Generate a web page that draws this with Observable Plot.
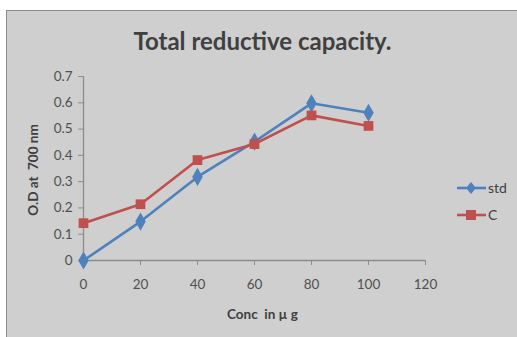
<!DOCTYPE html>
<html><head><meta charset="utf-8">
<script src="https://cdn.jsdelivr.net/npm/d3@7"></script>
<script src="https://cdn.jsdelivr.net/npm/@observablehq/plot@0.6"></script>
<style>
html,body{margin:0;padding:0;background:#fff;}
#wrap{position:relative;width:517px;height:337px;overflow:hidden;font-family:Lato,"Open Sans",sans-serif;}
#frame{position:absolute;left:6px;top:10px;width:520px;height:340px;background:#cfcfcf;border:1px solid #8a8a8a;border-right:none;border-bottom:none;}
#chart{position:absolute;left:0;top:0;}
.t{position:absolute;color:#404040;white-space:nowrap;}
#title{left:0;width:525px;text-align:center;top:26px;font-size:24px;font-weight:bold;}
#xl{left:0;width:525px;text-align:center;top:306px;font-size:13.5px;font-weight:bold;}
#yl{left:33px;top:170px;font-size:13.5px;font-weight:bold;transform:translate(-50%,-50%) rotate(-90deg);}
#legend{position:absolute;left:456px;top:174px;font-size:14px;color:#404040;}
</style></head>
<body><div id="wrap"><div id="frame"></div><div id="chart"></div>
<div class="t" id="title">Total reductive capacity.</div>
<div class="t" id="xl">Conc&nbsp; in µ g</div>
<div class="t" id="yl">O.D at&nbsp; 700 nm</div>
<div id="legend"></div>
</div>
<script>
const conc = [0, 20, 40, 60, 80, 100];
const stdValues = [0, 0.148, 0.318, 0.452, 0.598, 0.562];
const cValues = [0.142, 0.214, 0.382, 0.443, 0.552, 0.512];
const seriesNames = ["std", "C"];
const seriesColors = ["#4f81bd", "#c0504d"];
const seriesSymbols = ["diamond", "square"];
const xTicks = [0, 20, 40, 60, 80, 100, 120];
const yTicks = [0, 0.1, 0.2, 0.3, 0.4, 0.5, 0.6, 0.7];

const data = [];
conc.forEach((c, i) => {
  data.push({conc: c, od: stdValues[i], s: seriesNames[0]});
  data.push({conc: c, od: cValues[i], s: seriesNames[1]});
});

const chart = Plot.plot({
  width: 517, height: 337,
  marginLeft: 83, marginRight: 92, marginTop: 76, marginBottom: 77,
  style: {background: "transparent", fontFamily: "Lato, 'Open Sans', sans-serif", fontSize: "12px", color: "#505050"},
  x: {domain: [0, 120], ticks: xTicks},
  y: {domain: [0, 0.7], ticks: yTicks},
  color: {domain: seriesNames, range: seriesColors},
  symbol: {domain: seriesNames, range: seriesSymbols},
  marks: [
    Plot.ruleY([0], {stroke: "#8c8c8c", strokeWidth: 1.3}),
    Plot.ruleX([0], {stroke: "#8c8c8c", strokeWidth: 1.3}),
    Plot.axisX({ticks: xTicks, tickSize: 5, tickPadding: 14, stroke: "#8c8c8c", fill: "#505050", label: null, fontSize: 13.5, tickFormat: d => d}),
    Plot.axisY({ticks: yTicks, tickSize: 5, tickPadding: 6, stroke: "#8c8c8c", fill: "#505050", label: null, fontSize: 13.5, tickFormat: d => d === 0 ? "0" : d.toFixed(1)}),
    Plot.line(data, {x: "conc", y: "od", z: "s", stroke: "s", strokeWidth: 2.6}),
    Plot.dot(data, {x: "conc", y: "od", fill: "s", symbol: "s", r: 5.5, stroke: null})
  ]
});
document.getElementById("chart").appendChild(chart);

const leg = document.getElementById("legend");
seriesNames.forEach((n, i) => {
  const row = document.createElement("div");
  row.style.cssText = "display:flex;align-items:center;height:27px;";
  const sym = seriesSymbols[i] === "diamond"
    ? `<path d="M15 5 L20 11 L15 17 L10 11Z" fill="${seriesColors[i]}"/>`
    : `<rect x="10" y="6" width="10" height="10" fill="${seriesColors[i]}"/>`;
  row.innerHTML = `<svg width="31" height="22"><line x1="1" y1="11" x2="30" y2="11" stroke="${seriesColors[i]}" stroke-width="2.6"/>${sym}</svg><span style="margin-left:1px">${n}</span>`;
  leg.appendChild(row);
});
</script>
</body></html>
